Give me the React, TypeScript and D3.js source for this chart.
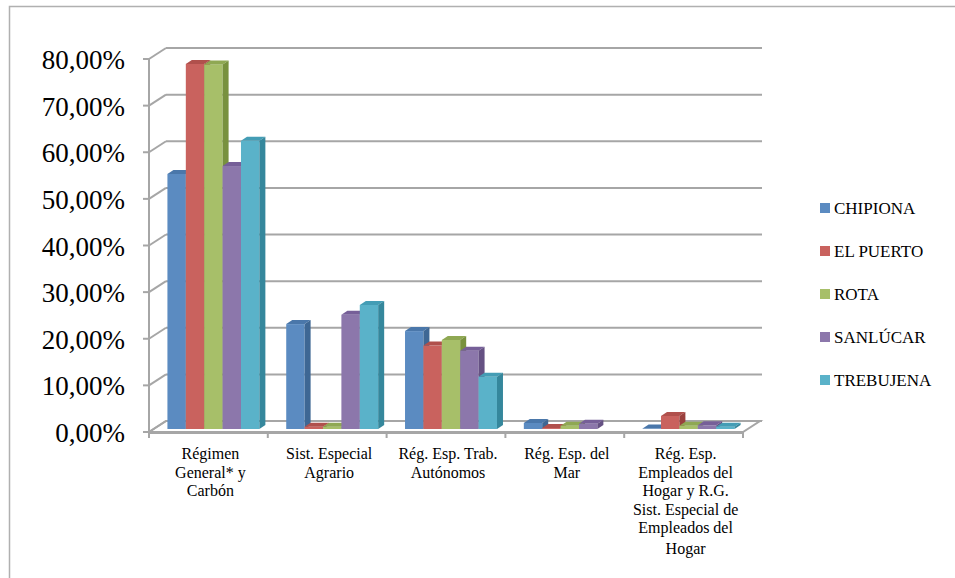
import React from 'react';
import * as d3 from 'd3';

const CATEGORIES = ['rg', 'agr', 'aut', 'mar', 'hog'];
const CATEGORY_LINES = [
  ['Régimen', 'General* y', 'Carbón'],
  ['Sist. Especial', 'Agrario'],
  ['Rég. Esp. Trab.', 'Autónomos'],
  ['Rég. Esp. del', 'Mar'],
  ['Rég. Esp.', 'Empleados del', 'Hogar y R.G.', 'Sist. Especial de', 'Empleados del', 'Hogar'],
];
const SERIES = ['CHIPIONA', 'EL PUERTO', 'ROTA', 'SANLÚCAR', 'TREBUJENA'];
// values in % per category, one array per series
const CHIPIONA = [54.7, 22.5, 21.0, 1.3, 0.1];
const EL_PUERTO = [78.3, 0.5, 17.9, 0.2, 2.8];
const ROTA = [78.2, 0.5, 19.1, 0.7, 0.7];
const SANLUCAR = [56.4, 24.5, 16.8, 1.1, 0.8];
const TREBUJENA = [61.8, 26.6, 11.2, 0, 0.5];
const VALUES = [CHIPIONA, EL_PUERTO, ROTA, SANLUCAR, TREBUJENA];
const Y_TICKS = [0, 10, 20, 30, 40, 50, 60, 70, 80];

const FRONT = ['#5b8bc1', '#c9625e', '#a7bf69', '#8c77ab', '#5ab2c9'];
const TOP = ['#4a77aa', '#b0504c', '#8fa853', '#765f98', '#449db5'];
const SIDE = ['#3e6794', '#9a403d', '#78913e', '#655183', '#35879c'];

const GRID = '#a6a6a6';
const FONT = '"Liberation Serif", "Times New Roman", serif';

// 3D offsets
const DX = 17, DY = -11; // back wall
const BX = 5, BY = -3;   // bar plane
const SX = 6, SY = -4;   // bar depth

const App: React.FC = () => {
  const x = d3.scaleBand<string>().domain(CATEGORIES).range([149, 743]);
  const s = d3.scaleBand<string>().domain(SERIES).range([0, x.bandwidth()]).paddingOuter(0.73);
  const y = d3.scaleLinear().domain([0, 80]).range([432, 59]);
  const y0 = y(0);

  const bars: JSX.Element[] = [];
  CATEGORIES.forEach((c, ci) => {
    SERIES.forEach((ser, si) => {
      const v = VALUES[si][ci];
      if (v <= 0) return;
      const x0 = x(c)! + s(ser)! + BX;
      const w = s.bandwidth();
      const yb = y0 + BY;
      const yt = y(v) + BY;
      bars.push(
        <g key={`${c}-${ser}`}>
          <rect x={x0} y={yt} width={w} height={yb - yt} fill={FRONT[si]} />
          <path d={`M${x0},${yt}L${x0 + SX},${yt + SY}L${x0 + w + SX},${yt + SY}L${x0 + w},${yt}Z`} fill={TOP[si]} />
          <path d={`M${x0 + w},${yt}L${x0 + w + SX},${yt + SY}L${x0 + w + SX},${yb + SY}L${x0 + w},${yb}Z`} fill={SIDE[si]} />
        </g>
      );
    });
  });

  const xL = 149, xR = 743;

  return (
    <svg width={955} height={578} style={{ position: 'absolute', left: 0, top: 0, background: '#fff' }}>
      {/* frame */}
      <path d="M9.5,580V6.5H960" fill="none" stroke="#b0b0b0" strokeWidth={1.5} />

      {/* floor */}
      <path d={`M${xL},${y0}L${xR},${y0}L${xR + DX},${y0 + DY}L${xL + DX},${y0 + DY}Z`} fill="#fff" stroke={GRID} strokeWidth={2} />

      {/* gridlines */}
      {Y_TICKS.map(t => (
        <g key={t}>
          <line x1={xL + DX} x2={762} y1={y(t) + DY} y2={y(t) + DY} stroke={GRID} strokeWidth={2} />
          <line x1={xL} x2={xL + DX} y1={y(t)} y2={y(t) + DY} stroke={GRID} strokeWidth={2} />
          <line x1={xL - 6} x2={xL} y1={y(t)} y2={y(t)} stroke={GRID} strokeWidth={2} />
          <text x={125} y={y(t) + 10} textAnchor="end" fontFamily={FONT} fontSize={27} fill="#000">
            {`${t},00%`}
          </text>
        </g>
      ))}
      <line x1={xL} x2={xL} y1={y(80)} y2={y0} stroke={GRID} strokeWidth={2} />

      {/* x axis */}
      <line x1={xL} x2={xR} y1={y0 + 1} y2={y0 + 1} stroke={GRID} strokeWidth={2} />
      {[...CATEGORIES.map(c => x(c)!), xR].map((px, i) => (
        <line key={i} x1={px} x2={px} y1={y0} y2={y0 + 6} stroke={GRID} strokeWidth={2} />
      ))}

      {bars}

      {/* category labels */}
      {CATEGORIES.map((c, ci) => (
        <text key={c} x={x(c)! + x.bandwidth() / 2 + 2} y={459} textAnchor="middle" fontFamily={FONT} fontSize={16} fill="#000">
          {CATEGORY_LINES[ci].map((ln, li) => (
            <tspan key={li} x={x(c)! + x.bandwidth() / 2 + 2} dy={li === 0 ? 0 : li === 5 ? 21 : 18.5}>{ln}</tspan>
          ))}
        </text>
      ))}

      {/* legend */}
      {SERIES.map((ser, si) => {
        const ly = 208 + si * 43;
        return (
          <g key={ser}>
            <rect x={820} y={ly - 5} width={10} height={10} fill={FRONT[si]} />
            <text x={834} y={ly + 6} fontFamily={FONT} fontSize={17} fill="#000">{ser}</text>
          </g>
        );
      })}
    </svg>
  );
};

export default App;
